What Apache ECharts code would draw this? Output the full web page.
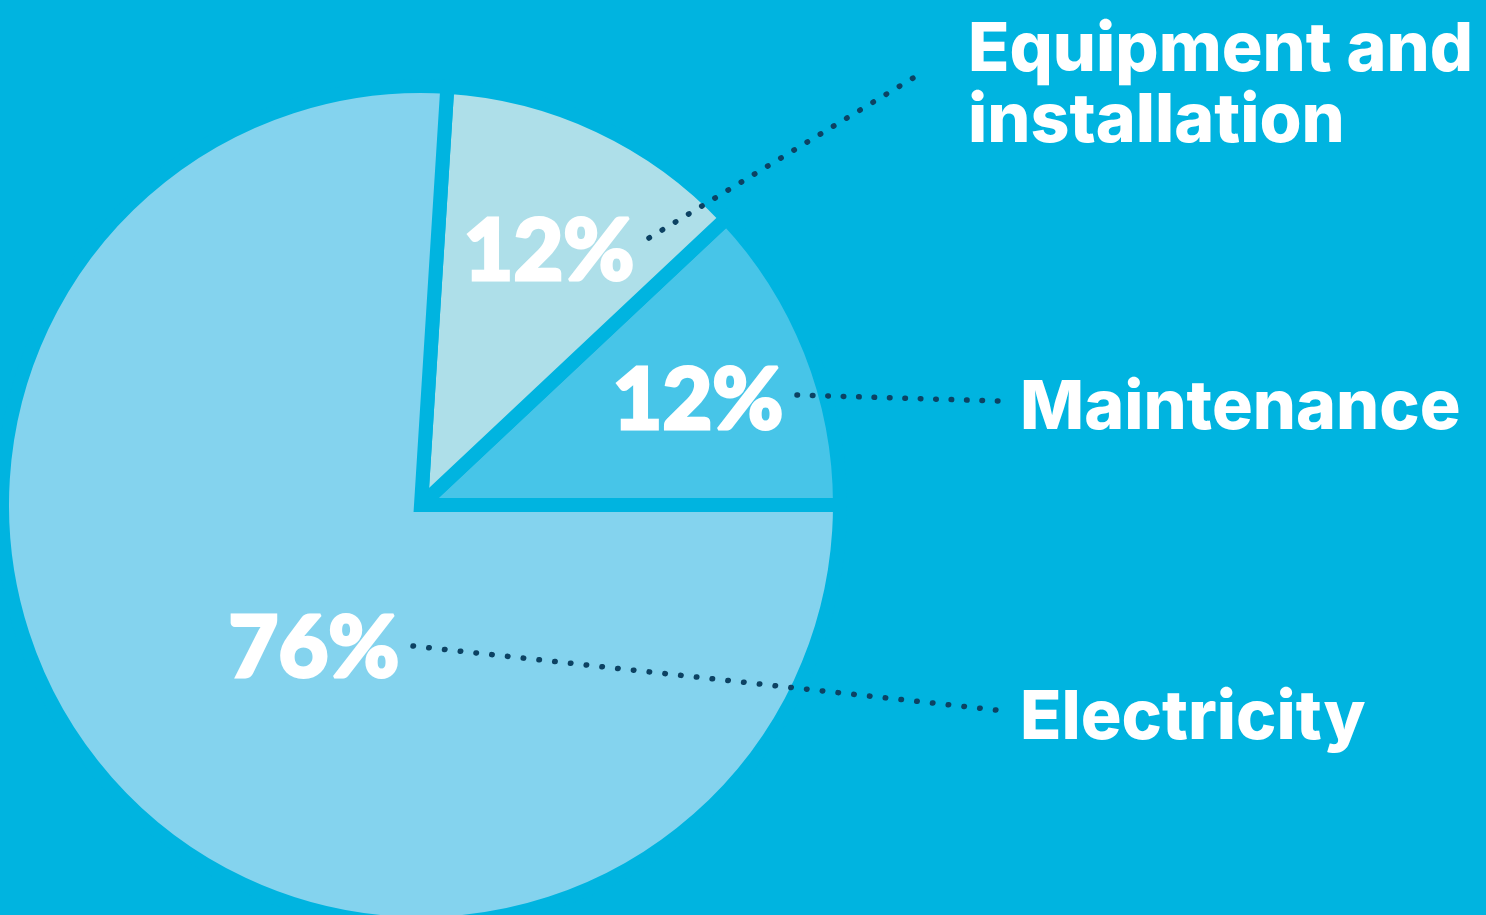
<!DOCTYPE html>
<html><head><meta charset="utf-8">
<script src="https://cdn.jsdelivr.net/npm/echarts@6/dist/echarts.min.js"></script>
<style>html,body{margin:0;padding:0;background:#00B4E0;overflow:hidden}#c{width:1486px;height:915px;}</style>
</head><body><div id="c"></div>
<script>
// Data (counter-clockwise from 3 o'clock)
const categories = ['Maintenance', 'Equipment and\ninstallation', 'Electricity'];
const shares = [12, 12, 76];
const sliceColors = ['#47C5E8', '#AEDFE9', '#84D3EE'];

// Layout (styling only)
const BG = '#00B4E0';
const DOT = '#0C4263';
const pctAnchor = [[698, 401], [549, 252], [314, 649]];
const nameAnchor = [[1020, 409], [968, 86], [1020, 719]];
const linePts = [
  [[797, 395], [897, 398], [998, 401]],
  [[649, 238], [781, 158], [913, 78]],
  [[413, 646], [705, 678], [996, 710]]
];
const dotCount = [13, 20, 37];

function dashFor(i) {
  const p = linePts[i];
  let L = 0;
  for (let k = 1; k < p.length; k++) L += Math.hypot(p[k][0] - p[k - 1][0], p[k][1] - p[k - 1][1]);
  const period = (L - 0.6) / dotCount[i];
  return [0.5, period - 0.5];
}

const pieData = categories.map((c, i) => ({ name: c, value: shares[i], itemStyle: { color: sliceColors[i] } }));
const common = {
  type: 'pie', center: [421, 505], radius: 419, startAngle: 0, clockwise: false,
  padAngle: 0, avoidLabelOverlap: false, animation: false, silent: true,
  emphasis: { disabled: true }
};

const chart = echarts.init(document.getElementById('c'), null, { renderer: 'canvas' });
chart.setOption({
  backgroundColor: BG,
  animation: false,
  series: [
    Object.assign({}, common, {
      z: 2,
      data: pieData,
      itemStyle: { borderColor: BG, borderWidth: 14, borderJoin: 'miter' },
      label: {
        show: true, position: 'inside', formatter: p => p.value + '%',
        color: '#fff', fontFamily: 'Lato', fontWeight: 900, fontSize: 86,
        textBorderColor: '#fff', textBorderWidth: 3
      },
      labelLine: { show: false },
      labelLayout: p => ({ x: pctAnchor[p.dataIndex][0], y: pctAnchor[p.dataIndex][1], align: 'center', verticalAlign: 'middle' })
    }),
    Object.assign({}, common, {
      z: 5,
      data: categories.map((c, i) => ({
        name: c, value: shares[i],
        labelLine: { lineStyle: { type: dashFor(i) } }
      })),
      itemStyle: { color: 'rgba(0,0,0,0)', borderWidth: 0 },
      label: {
        show: true, position: 'outside', formatter: '{b}',
        color: '#fff', fontFamily: 'Inter', fontWeight: 800, fontSize: 68, lineHeight: 71, align: 'left'
      },
      labelLine: { show: true, smooth: false, lineStyle: { color: DOT, width: 5.5, type: [0.5, 15], cap: 'round' } },
      labelLayout: p => ({
        x: nameAnchor[p.dataIndex][0], y: nameAnchor[p.dataIndex][1], align: 'left', verticalAlign: 'middle',
        labelLinePoints: linePts[p.dataIndex]
      })
    })
  ]
});
</script></body></html>
